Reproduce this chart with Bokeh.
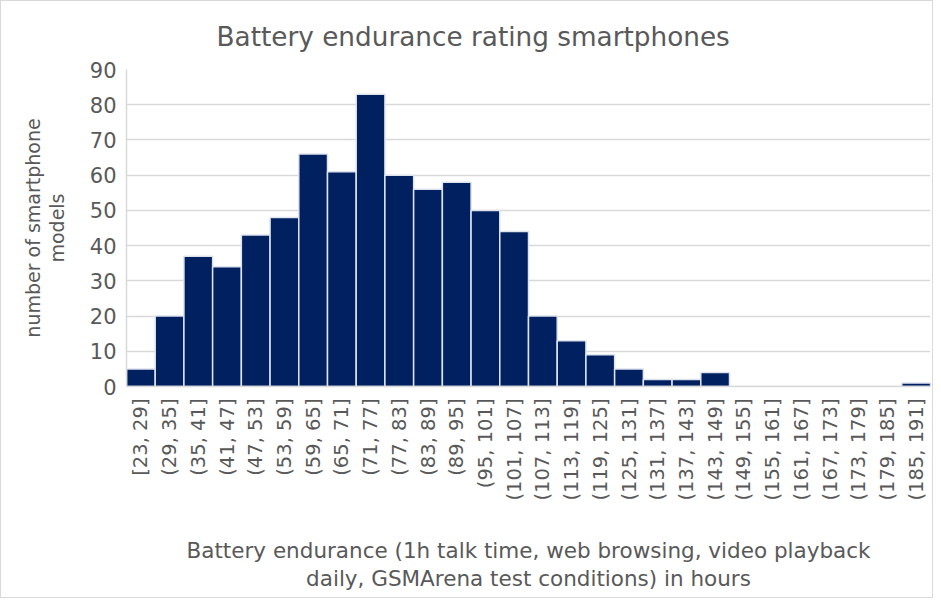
import math
from bokeh.plotting import figure
from bokeh.models import ColumnDataSource, FactorRange, Range1d, FixedTicker
from bokeh.embed import file_html
from bokeh.resources import INLINE

bins = ["[23, 29]", "(29, 35]", "(35, 41]", "(41, 47]", "(47, 53]", "(53, 59]",
        "(59, 65]", "(65, 71]", "(71, 77]", "(77, 83]", "(83, 89]", "(89, 95]",
        "(95, 101]", "(101, 107]", "(107, 113]", "(113, 119]", "(119, 125]",
        "(125, 131]", "(131, 137]", "(137, 143]", "(143, 149]", "(149, 155]",
        "(155, 161]", "(161, 167]", "(167, 173]", "(173, 179]", "(179, 185]",
        "(185, 191]"]
counts = [5, 20, 37, 34, 43, 48, 66, 61, 83, 60, 56, 58, 50, 44, 20, 13, 9, 5,
          2, 2, 4, 0, 0, 0, 0, 0, 0, 1]
y_ticks = [0, 10, 20, 30, 40, 50, 60, 70, 80, 90]

FONT = "DejaVu Sans"
GREY = "#595959"

src = ColumnDataSource(dict(bins=bins, counts=counts))

p = figure(width=933, height=598, output_backend="svg", toolbar_location=None,
           x_range=FactorRange(*bins, range_padding=0), y_range=Range1d(0, 90),
           title="Battery endurance rating smartphones",
           min_border_left=125, min_border_right=4, min_border_top=68,
           min_border_bottom=213)
p.styles = {"border": "1px solid #d9d9d9", "box-sizing": "border-box"}

p.vbar(x="bins", top="counts", width=1.0, source=src, fill_color="#002060",
       line_color="#dfe3ee", line_width=1.5)

p.title.text_font = FONT
p.title.text_font_size = "26.3px"
p.title.text_font_style = "normal"
p.title.text_color = GREY
p.title.align = "left"
p.title.offset = 90
p.title.standoff = 36

p.outline_line_color = None
p.xgrid.grid_line_color = None
p.ygrid.grid_line_color = "#d9d9d9"
p.ygrid.grid_line_width = 1.5
p.yaxis.ticker = FixedTicker(ticks=y_ticks)

for ax in (p.xaxis[0], p.yaxis[0]):
    ax.axis_line_color = "#d9d9d9"
    ax.axis_line_width = 1.5
    ax.major_tick_line_color = None
    ax.minor_tick_line_color = None
    ax.major_label_text_font = FONT
    ax.major_label_text_color = GREY
    ax.axis_label_text_font = FONT
    ax.axis_label_text_color = GREY
    ax.axis_label_text_font_style = "normal"

p.xaxis.major_label_orientation = math.pi / 2
p.xaxis.major_label_text_font_size = "19.5px"
p.xaxis.major_label_standoff = 6
p.xaxis.axis_label = "Battery endurance (1h talk time, web browsing, video playback\ndaily, GSMArena test conditions) in hours"
p.xaxis.axis_label_text_font_size = "21.5px"
p.xaxis.axis_label_text_line_height = 1.15
p.xaxis.axis_label_standoff = 34

p.yaxis.major_label_text_font_size = "21px"
p.yaxis.major_label_standoff = 4
p.yaxis.axis_label = "number of smartphone\nmodels"
p.yaxis.axis_label_text_font_size = "19px"
p.yaxis.axis_label_text_line_height = 1.09
p.yaxis.axis_label_standoff = 19

open("out.html", "w").write(file_html(p, INLINE))
